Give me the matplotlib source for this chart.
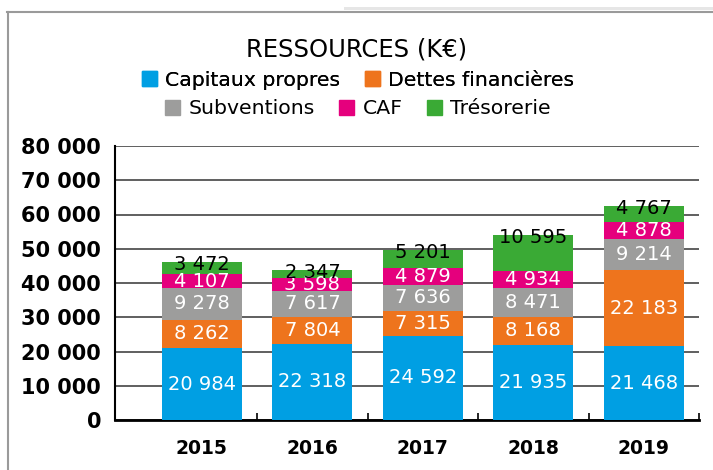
import numpy as np
import matplotlib
matplotlib.use("Agg")
import matplotlib.pyplot as plt
from matplotlib.patches import Patch, Rectangle
from matplotlib.lines import Line2D

plt.rcParams['font.family'] = ['DejaVu Sans']

# données (K€)
annees = ["2015", "2016", "2017", "2018", "2019"]
capitaux = [20984, 22318, 24592, 21935, 21468]
dettes = [8262, 7804, 7315, 8168, 22183]
subventions = [9278, 7617, 7636, 8471, 9214]
caf = [4107, 3598, 4879, 4934, 4878]
tresorerie = [3472, 2347, 5201, 10595, 4767]

series = [capitaux, dettes, subventions, caf, tresorerie]
noms = ["Capitaux propres", "Dettes financières", "Subventions", "CAF", "Trésorerie"]
couleurs = ["#009FE3", "#EE741D", "#9D9D9C", "#E5007D", "#3AAA35"]
yticks = [0, 10000, 20000, 30000, 40000, 50000, 60000, 70000, 80000]


def fmt(v):
    return f"{v:,}".replace(",", " ")


fig = plt.figure(figsize=(7.13, 4.70), dpi=100)
ax = fig.add_axes([115 / 713, 50 / 470, 584 / 713, 274 / 470])

x = np.arange(len(annees))
bas = np.zeros(len(annees))
barres = []
for vals, nom, c in zip(series, noms, couleurs):
    b = ax.bar(x, vals, 0.724, bottom=bas, color=c, label=nom, zorder=3)
    barres.append(b)
    bas += np.array(vals)

# étiquettes dans les barres
for k, (b, vals) in enumerate(zip(barres, series)):
    for rect, v in zip(b, vals):
        cx = rect.get_x() + rect.get_width() / 2
        y0 = rect.get_y()
        h = rect.get_height()
        if k == 4:
            # trésorerie : texte noir, collé en haut si le bloc est petit
            y = max(y0 + h / 2, y0 + h - 700)
            col = "black"
        else:
            y = y0 + h / 2
            col = "white"
        ax.text(cx, y, fmt(v), ha="center", va="center", color=col,
                fontsize=14, zorder=4)

ax.set_xlim(-0.787, 4.5)
ax.set_ylim(0, 80000)
ax.set_yticks(yticks)
ax.set_yticklabels([fmt(v) for v in yticks], fontsize=15, fontweight="bold")
ax.set_xticks(x)
ax.set_xticklabels(annees, fontsize=13.5, fontweight="bold")
ax.set_xticks(x + 0.5, minor=True)
ax.tick_params(axis="x", which="major", length=0, pad=14)
ax.tick_params(axis="x", which="minor", length=5, width=1.2, direction="in")
ax.tick_params(axis="y", length=0, pad=10)

ax.grid(axis="y", color="#444444", linewidth=1.2, zorder=0)
for s in ["top", "right"]:
    ax.spines[s].set_visible(False)
ax.spines["left"].set_linewidth(1.5)
ax.spines["bottom"].set_linewidth(2)

# titre et légende
fig.text(0.5, 1 - 50 / 470, "RESSOURCES (K€)", ha="center", va="center", fontsize=17.5)
poignees = [Patch(color=c) for c in couleurs]
leg1 = fig.legend(poignees[:2], noms[:2], loc="center", bbox_to_anchor=(0.502, 1 - 80 / 470),
                  ncol=2, frameon=False, fontsize=14.7, handlelength=0.75, handleheight=0.75,
                  handletextpad=0.4, columnspacing=1.2, borderaxespad=0)
fig.add_artist(leg1)
fig.legend(poignees[2:], noms[2:], loc="center", bbox_to_anchor=(0.502, 1 - 109 / 470),
           ncol=3, frameon=False, fontsize=14.7, handlelength=0.75, handleheight=0.75,
           handletextpad=0.4, columnspacing=1.2, borderaxespad=0)

# cadre
fig.add_artist(Rectangle((344 / 713, 1 - 10 / 470), 1, 3 / 470, transform=fig.transFigure,
                         color="#E6E6E6", lw=0))
fig.add_artist(Line2D([7 / 713, 1], [1 - 11.5 / 470, 1 - 11.5 / 470], color="#9A9A9A", lw=1.5))
fig.add_artist(Line2D([8 / 713, 8 / 713], [0, 1 - 11.5 / 470], color="#9A9A9A", lw=1.5))

fig.savefig("out.png", dpi=100)
